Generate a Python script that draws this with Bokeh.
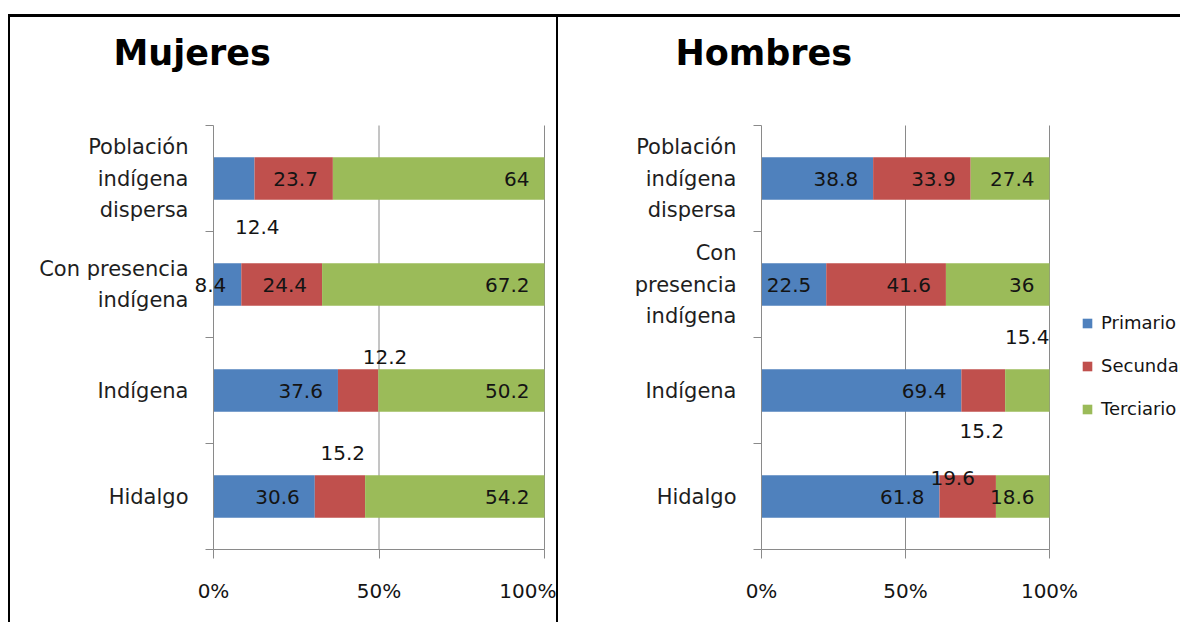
from bokeh.plotting import figure
from bokeh.models import (Range1d, FixedTicker, ColumnDataSource, Label, Legend,
                          LegendItem, PrintfTickFormatter, Div, Spacer)
from bokeh.layouts import row, column
from bokeh.embed import file_html
from bokeh.resources import INLINE

# ---------------- data ----------------
categorias = ["Población indígena dispersa", "Con presencia indígena", "Indígena", "Hidalgo"]
etiquetas_mujeres = ["Población\nindígena\ndispersa", "Con presencia\nindígena", "Indígena", "Hidalgo"]
etiquetas_hombres = ["Población\nindígena\ndispersa", "Con\npresencia\nindígena", "Indígena", "Hidalgo"]
sectores = ["Primario", "Secundario", "Terciario"]

mujeres_primario = [12.4, 8.4, 37.6, 30.6]
mujeres_secundario = [23.7, 24.4, 12.2, 15.2]
mujeres_terciario = [64, 67.2, 50.2, 54.2]

hombres_primario = [38.8, 22.5, 69.4, 61.8]
hombres_secundario = [33.9, 41.6, 15.2, 19.6]
hombres_terciario = [27.4, 36, 15.4, 18.6]

x_ticks = [0, 50, 100]

# ---------------- style / layout ----------------
colores = ["#4F81BD", "#C0504D", "#9BBB59"]
GRIS = "#8a8a8a"
FUENTE = "DejaVu Sans"
# label displacement (px) for labels Excel moved: (category idx, sector idx): (dx from bar end, dy down)
ajustes_mujeres = {(0, 0): (25, 48), (2, 1): (29, -34), (3, 1): (0, -44)}
ajustes_hombres = {(2, 1): (-1, 40), (2, 2): (0, -54), (3, 1): (-21, -19)}
FIG_H = 605
EJE_TOP_PX = 108       # canvas px of the top of the category area
BANDA_PX = 106         # px per category band
EJE_LEFT_PX = 203      # canvas px of the value axis origin
TITULO_BASE_PX = 35    # canvas px of the title baseline


def build(titulo, etiquetas, prim, sec, ter, ajustes, width, plot_px, title_dx_px, legend_loc):
    n = len(categorias)
    ys = [n - 1 - i for i in range(n)]
    sx = plot_px / 100.0
    x0 = -EJE_LEFT_PX / sx
    x1 = (width - EJE_LEFT_PX) / sx
    y1 = (n - 0.5) + EJE_TOP_PX / BANDA_PX
    y0 = -0.5 - (FIG_H - EJE_TOP_PX - n * BANDA_PX) / BANDA_PX
    p = figure(width=width, height=FIG_H, x_range=Range1d(x0, x1), y_range=Range1d(y0, y1),
               output_backend="svg", toolbar_location=None, title=None,
               min_border=0, background_fill_color="white", border_fill_color="white",
               outline_line_color=None)
    p.xgrid.visible = False
    p.ygrid.visible = False

    # vertical gridlines (only over the category area)
    gx = x_ticks[1:]
    p.segment(x0=gx, y0=[-0.5] * len(gx), x1=gx, y1=[n - 0.5] * len(gx),
              line_color=GRIS, line_width=1)

    series = [prim, sec, ter]
    totals = [sum(v[i] for v in series) for i in range(n)]
    cum = [0.0] * n
    renderers = []
    for s, (vals, color) in enumerate(zip(series, colores)):
        left = cum[:]
        right = [cum[i] + vals[i] / totals[i] * 100 for i in range(n)]
        cum = right
        src = ColumnDataSource(dict(y=ys, left=left, right=right))
        r = p.hbar(y="y", left="left", right="right", height=0.4, source=src,
                   fill_color=color, line_color=None)
        renderers.append(r)
        for i in range(n):
            dx, dy = ajustes.get((i, s), (-15, 0))
            p.add_layout(Label(x=min(right[i], 100), y=ys[i], text=f"{vals[i]:g}",
                               x_offset=dx, y_offset=-dy,
                               text_align="right", text_baseline="middle",
                               text_font=FUENTE, text_font_size="20px", text_color="#141414"))

    # title
    p.add_layout(Label(x=title_dx_px / sx, y=(n - 0.5) + (EJE_TOP_PX - TITULO_BASE_PX) / BANDA_PX,
                       text=titulo, text_align="left", text_baseline="alphabetic",
                       text_font=FUENTE, text_font_style="bold", text_font_size="35px",
                       text_color="black"))

    # x axis
    xa = p.xaxis[0]
    xa.fixed_location = -0.5
    xa.bounds = (x_ticks[0], x_ticks[-1])
    xa.ticker = FixedTicker(ticks=x_ticks)
    xa.formatter = PrintfTickFormatter(format="%d%%")
    xa.axis_line_color = GRIS
    xa.major_tick_line_color = GRIS
    xa.major_tick_out = 9
    xa.major_tick_in = 0
    xa.minor_tick_line_color = None
    xa.major_label_standoff = 20
    xa.major_label_text_font = FUENTE
    xa.major_label_text_font_size = "20px"
    xa.major_label_text_color = "#141414"

    # y axis (category boundaries as minor ticks)
    ya = p.yaxis[0]
    ya.fixed_location = 0
    ya.bounds = (-0.5, n - 0.5)
    ya.ticker = FixedTicker(ticks=ys, minor_ticks=[y - 0.5 for y in ys] + [n - 0.5])
    ya.major_label_overrides = {ys[i]: etiquetas[i] for i in range(n)}
    ya.axis_line_color = GRIS
    ya.major_tick_line_color = None
    ya.major_tick_out = 0
    ya.major_tick_in = 0
    ya.minor_tick_line_color = GRIS
    ya.minor_tick_out = 8
    ya.minor_tick_in = 0
    ya.major_label_standoff = 17
    ya.major_label_text_font = FUENTE
    ya.major_label_text_font_size = "21px"
    ya.major_label_text_color = "#1e1e1e"
    ya.major_label_text_line_height = 1.32
    ya.major_label_text_align = "center"

    if legend_loc is not None:
        legend = Legend(items=[LegendItem(label=sectores[k], renderers=[renderers[k]]) for k in range(3)],
                        location=legend_loc, orientation="vertical",
                        glyph_width=12, glyph_height=12, label_height=20, spacing=22,
                        label_standoff=8, padding=0, margin=0,
                        label_text_font=FUENTE, label_text_font_size="18px", label_text_color="#141414",
                        border_line_color=None, background_fill_alpha=0)
        p.add_layout(legend)
    return p


p1 = build("Mujeres", etiquetas_mujeres, mujeres_primario, mujeres_secundario, mujeres_terciario,
           ajustes_mujeres, 546, 331, -100, None)
p2 = build("Hombres", etiquetas_hombres, hombres_primario, hombres_secundario, hombres_terciario,
           ajustes_hombres, 622, 288, -86, (523, 203))


def linea(w, h):
    return Div(text="", width=w, height=h, margin=(0, 0, 0, 0), styles={"background-color": "black"})


def hueco(w, h):
    return Spacer(width=w, height=h, margin=(0, 0, 0, 0))


layout = column(
    hueco(1180, 14),
    row(hueco(8, 3), linea(1172, 3), spacing=0),
    row(hueco(8, FIG_H), linea(2, FIG_H), p1, linea(2, FIG_H), p2, spacing=0),
    spacing=0,
)

open("out.html", "w").write(file_html(layout, INLINE))
